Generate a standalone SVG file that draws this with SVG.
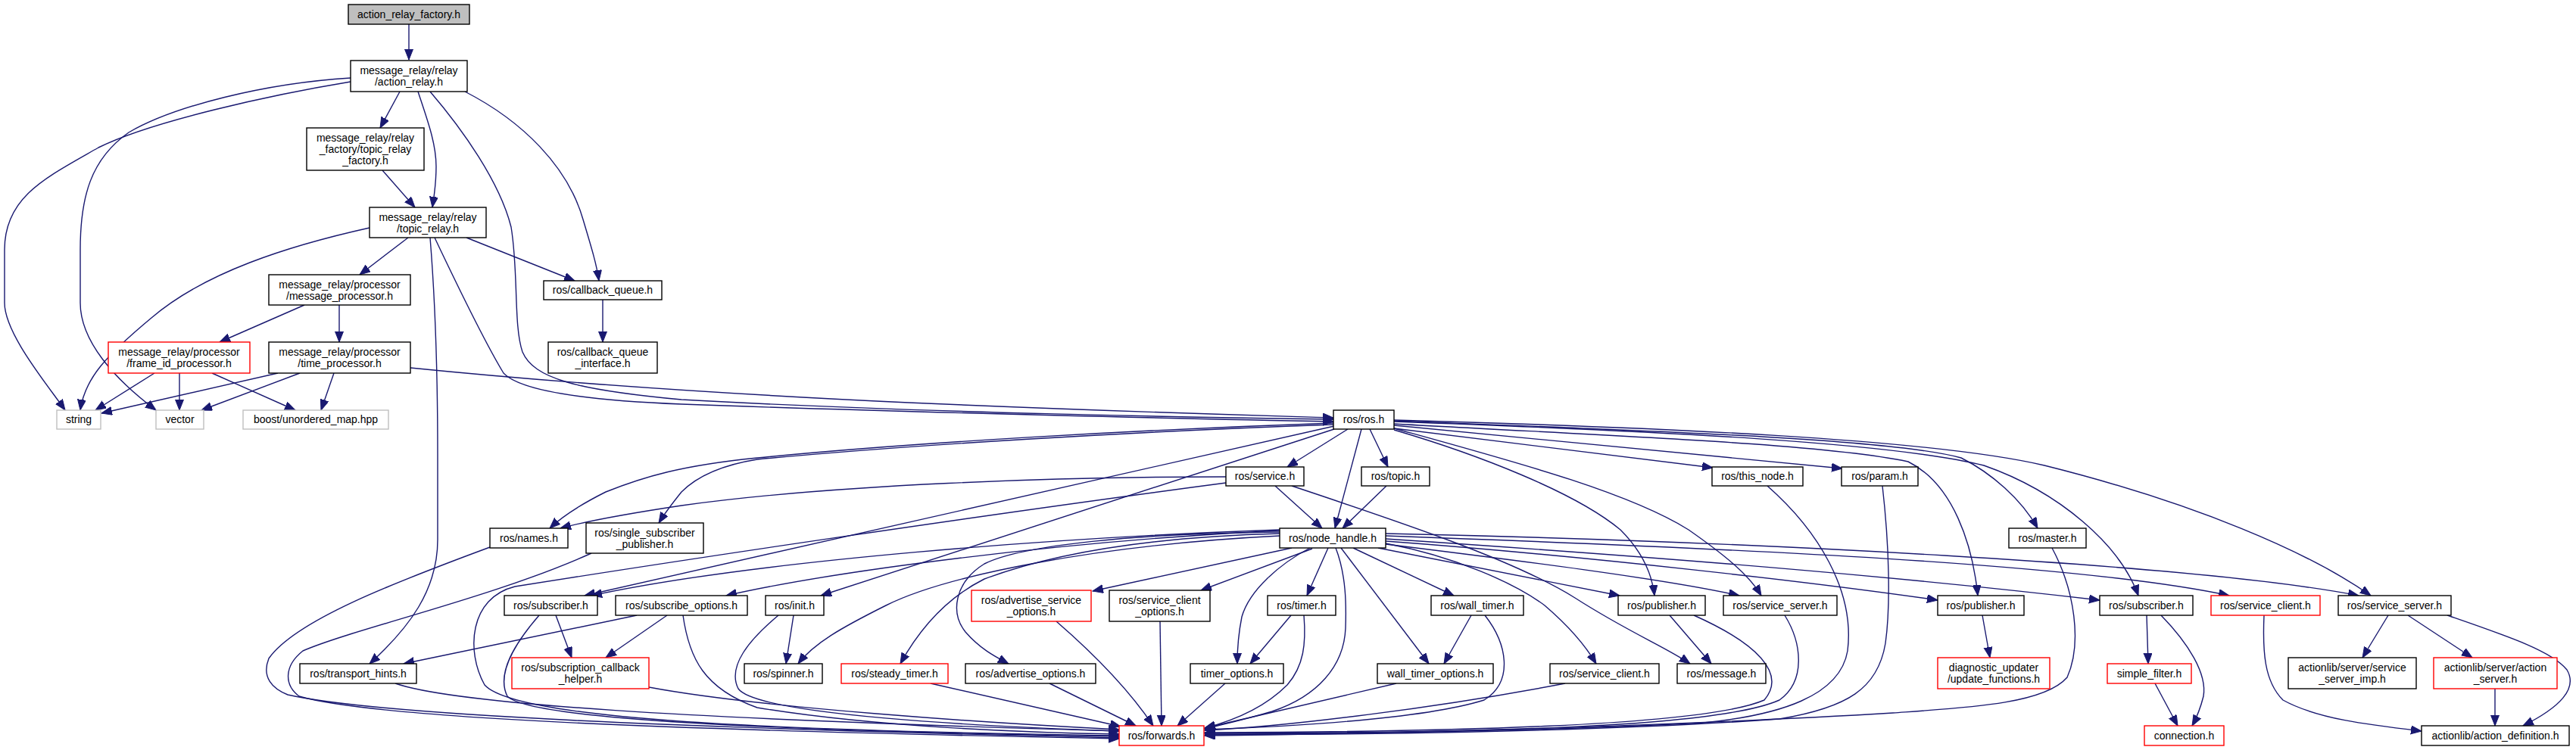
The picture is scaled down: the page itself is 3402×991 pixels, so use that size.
<svg xmlns="http://www.w3.org/2000/svg" width="3402" height="991" viewBox="0 0 3402 991">
<style>
.n rect{fill:#fff;stroke:#000;stroke-width:1.4}
.n.r rect{stroke:#ff0000}
.n.g rect{stroke:#bfbfbf}
.n.root rect{fill:#bfbfbf}
.n text{font-family:"Liberation Sans",Arial,sans-serif;font-size:14px;text-anchor:middle;fill:#000}
#edges path{fill:none;stroke:#191970;stroke-width:1.4;marker-end:url(#ah)}
</style>
<defs>
<marker id="ah" markerUnits="userSpaceOnUse" markerWidth="15" markerHeight="12" refX="14" refY="5.5" orient="auto">
<path d="M0,0 L14,5.5 L0,11 z" fill="#191970" stroke="#191970" stroke-width="1"/>
</marker>
</defs>
<rect width="3402" height="991" fill="#fff"/>
<g id="edges">
<path d="M540,32 L540,79"/>
<path d="M463,108 C360,125 200,160 130,195 C60,235 6,260 6,330 L6,400 C6,440 60,505 86,542"/>
<path d="M463,103 C350,110 230,140 170,175 C120,210 106,260 106,330 L106,400 C106,450 150,500 206,542"/>
<path d="M528,121 L502,169"/>
<path d="M552,121 C565,160 576,190 576,220 C576,245 573,260 571,274"/>
<path d="M568,121 C610,170 660,240 675,300 C685,360 678,430 690,465 C705,500 760,515 900,528 C1200,545 1600,552 1761,554"/>
<path d="M614,121 C690,160 750,220 770,290 C782,330 788,350 791,371"/>
<path d="M505,225 L548,274"/>
<path d="M539,314 L475,363"/>
<path d="M616,314 L759,371"/>
<path d="M568,314 C575,400 578,500 578,600 L578,713 C578,780 540,830 488,877"/>
<path d="M488,301 C380,325 270,360 200,420 C140,470 112,500 106,542"/>
<path d="M574,314 C610,390 645,460 665,493 C690,520 800,530 900,534 C1200,545 1600,554 1761,557"/>
<path d="M402,403 L290,452"/>
<path d="M448,403 L448,452"/>
<path d="M796,396 L796,452"/>
<path d="M204,493 L126,542"/>
<path d="M237,493 L237,542"/>
<path d="M280,493 L390,542"/>
<path d="M367,493 L134,546"/>
<path d="M396,493 L266,542"/>
<path d="M441,493 L424,542"/>
<path d="M542,486 C700,502 900,518 1200,532 C1500,545 1700,550 1761,552"/>
<path d="M1780,567 L1700,617"/>
<path d="M1798,567 L1763,698"/>
<path d="M1809,567 L1833,617"/>
<path d="M1761,559 C1500,568 1200,585 1000,605 C900,615 850,630 800,650 C770,665 745,680 726,698"/>
<path d="M1761,561 C1500,570 1200,588 1000,607 C950,615 920,630 900,650 C888,665 878,678 870,691"/>
<path d="M1762,563 L772,787"/>
<path d="M1762,567 L1084,787"/>
<path d="M1841,566 L2262,618"/>
<path d="M1841,562 L2433,619"/>
<path d="M1841,568 C1950,600 2080,650 2140,700 C2170,730 2182,760 2185,787"/>
<path d="M1841,566 C2000,610 2150,650 2230,700 C2280,735 2310,760 2326,787"/>
<path d="M1841,556 C2200,570 2500,580 2590,605 C2630,625 2670,660 2691,698"/>
<path d="M1841,560 C2100,575 2400,585 2520,610 C2580,640 2605,720 2612,787"/>
<path d="M1841,557 C2200,570 2500,585 2620,615 C2720,650 2800,720 2824,787"/>
<path d="M1841,555 C2200,565 2550,580 2700,615 C2900,665 3050,730 3131,787"/>
<path d="M1684,642 L1746,698"/>
<path d="M1831,642 L1773,698"/>
<path d="M1619,630 C1400,630 1100,640 900,668 C820,680 770,690 740,698"/>
<path d="M1619,638 C1300,680 900,740 680,775 C620,790 615,860 640,905 C680,950 1000,965 1478,972"/>
<path d="M1706,642 C1850,690 2000,740 2080,790 C2150,835 2200,855 2232,877"/>
<path d="M1690,700 C1400,710 1000,740 781,787"/>
<path d="M1690,701 C1400,715 1100,755 959,787"/>
<path d="M1690,708 C1450,720 1250,760 1170,800 C1110,830 1075,850 1054,877"/>
<path d="M1690,705 C1500,710 1380,735 1300,765 C1250,790 1215,830 1189,877"/>
<path d="M1690,703 C1500,705 1350,720 1300,745 C1260,770 1255,810 1275,835 C1295,858 1315,868 1332,877"/>
<path d="M1706,724 L1443,781"/>
<path d="M1733,725 L1586,780"/>
<path d="M1754,724 L1726,787"/>
<path d="M1730,724 C1690,745 1650,780 1640,815 C1635,840 1634,860 1634,877"/>
<path d="M1764,724 C1778,760 1778,800 1777,830 C1775,880 1740,920 1680,940 C1640,952 1610,958 1591,963"/>
<path d="M1787,724 L1920,787"/>
<path d="M1771,724 L1887,877"/>
<path d="M1830,718 C1920,735 2000,770 2040,800 C2075,830 2095,855 2108,877"/>
<path d="M1820,724 L2139,787"/>
<path d="M1830,719 C2000,740 2200,765 2297,787"/>
<path d="M1830,715 C2100,735 2400,770 2559,793"/>
<path d="M1830,712 C2100,730 2450,755 2773,793"/>
<path d="M1830,708 C2300,725 2750,745 2944,787"/>
<path d="M1830,705 C2300,715 2900,745 3115,787"/>
<path d="M734,813 L755,869"/>
<path d="M712,813 C680,850 655,890 670,920 C700,950 1000,965 1478,973"/>
<path d="M841,813 L533,877"/>
<path d="M881,813 L800,869"/>
<path d="M902,813 C910,870 930,910 1000,935 C1150,960 1350,968 1478,970"/>
<path d="M1048,813 L1038,877"/>
<path d="M1028,813 C990,845 960,880 975,910 C1000,945 1300,960 1478,966"/>
<path d="M522,903 C600,930 900,950 1478,966"/>
<path d="M857,908 C1000,935 1300,955 1478,964"/>
<path d="M647,723 C520,770 390,820 355,870 C345,895 360,910 380,918 C500,945 900,962 1478,975"/>
<path d="M781,731 C650,790 470,830 400,860 C375,880 375,905 395,920 C500,950 900,965 1478,976"/>
<path d="M1395,821 C1440,860 1490,910 1523,959"/>
<path d="M1532,821 L1534,959"/>
<path d="M1229,903 L1480,960"/>
<path d="M1386,903 L1500,959"/>
<path d="M1618,903 L1555,959"/>
<path d="M1844,903 L1591,962"/>
<path d="M1943,813 L1907,877"/>
<path d="M1961,813 C1990,850 2000,900 1960,925 C1880,950 1700,960 1591,964"/>
<path d="M1722,813 C1725,850 1722,880 1700,905 C1670,935 1630,952 1591,962"/>
<path d="M1705,813 L1651,877"/>
<path d="M2067,903 C1900,935 1700,960 1591,965"/>
<path d="M2205,813 L2260,877"/>
<path d="M2237,813 C2320,850 2360,890 2330,925 C2250,960 1900,967 1591,968"/>
<path d="M2357,813 C2380,850 2385,900 2350,925 C2260,965 1900,968 1591,969"/>
<path d="M2334,642 C2400,700 2450,780 2440,860 C2430,920 2350,945 2250,955 C2000,968 1700,970 1591,970"/>
<path d="M2486,642 C2495,720 2497,800 2490,850 C2480,910 2440,935 2350,950 C2100,968 1750,971 1591,971"/>
<path d="M2710,724 C2740,780 2750,850 2730,895 C2700,930 2600,935 2500,942 C2200,960 1800,970 1591,972"/>
<path d="M2618,813 L2628,869"/>
<path d="M2835,813 L2837,877"/>
<path d="M2854,813 C2890,850 2915,890 2910,920 C2905,940 2900,950 2895,959"/>
<path d="M2846,903 L2876,959"/>
<path d="M2990,813 C2988,860 2990,900 3015,925 C3060,950 3130,958 3198,966"/>
<path d="M3154,813 L3120,869"/>
<path d="M3180,813 L3265,869"/>
<path d="M3232,813 C3310,840 3370,860 3390,885 C3405,910 3380,935 3332,959"/>
<path d="M3295,910 L3295,959"/>
</g>
<g id="n0" class="n root"><rect x="460" y="6" width="160" height="26"/><text x="540" y="24">action_relay_factory.h</text></g>
<g id="n1" class="n"><rect x="463" y="80" width="154" height="41"/><text x="540" y="98">message_relay/relay</text><text x="540" y="113">/action_relay.h</text></g>
<g id="n2" class="n"><rect x="405" y="169" width="155" height="56"/><text x="482.5" y="187">message_relay/relay</text><text x="482.5" y="202">_factory/topic_relay</text><text x="482.5" y="217">_factory.h</text></g>
<g id="n3" class="n"><rect x="488" y="274" width="154" height="40"/><text x="565" y="292">message_relay/relay</text><text x="565" y="307">/topic_relay.h</text></g>
<g id="n4" class="n"><rect x="355" y="363" width="187" height="40"/><text x="448.5" y="381">message_relay/processor</text><text x="448.5" y="396">/message_processor.h</text></g>
<g id="n5" class="n"><rect x="718" y="371" width="156" height="25"/><text x="796" y="388">ros/callback_queue.h</text></g>
<g id="n6" class="n r"><rect x="143" y="452" width="187" height="41"/><text x="236.5" y="470">message_relay/processor</text><text x="236.5" y="485">/frame_id_processor.h</text></g>
<g id="n7" class="n"><rect x="355" y="452" width="187" height="41"/><text x="448.5" y="470">message_relay/processor</text><text x="448.5" y="485">/time_processor.h</text></g>
<g id="n8" class="n"><rect x="724" y="452" width="144" height="41"/><text x="796" y="470">ros/callback_queue</text><text x="796" y="485">_interface.h</text></g>
<g id="n9" class="n g"><rect x="75" y="542" width="58" height="25"/><text x="104" y="559">string</text></g>
<g id="n10" class="n g"><rect x="206" y="542" width="63" height="25"/><text x="237.5" y="559">vector</text></g>
<g id="n11" class="n g"><rect x="321" y="542" width="192" height="25"/><text x="417" y="559">boost/unordered_map.hpp</text></g>
<g id="n12" class="n"><rect x="1761" y="542" width="80" height="25"/><text x="1801" y="559">ros/ros.h</text></g>
<g id="n13" class="n"><rect x="1619" y="617" width="103" height="25"/><text x="1670.5" y="634">ros/service.h</text></g>
<g id="n14" class="n"><rect x="1798" y="617" width="90" height="25"/><text x="1843" y="634">ros/topic.h</text></g>
<g id="n15" class="n"><rect x="2261" y="617" width="120" height="25"/><text x="2321" y="634">ros/this_node.h</text></g>
<g id="n16" class="n"><rect x="2432" y="617" width="101" height="25"/><text x="2482.5" y="634">ros/param.h</text></g>
<g id="n17" class="n"><rect x="647" y="698" width="103" height="26"/><text x="698.5" y="716">ros/names.h</text></g>
<g id="n18" class="n"><rect x="774" y="691" width="155" height="40"/><text x="851.5" y="709">ros/single_subscriber</text><text x="851.5" y="724">_publisher.h</text></g>
<g id="n19" class="n"><rect x="1690" y="698" width="140" height="26"/><text x="1760" y="716">ros/node_handle.h</text></g>
<g id="n20" class="n"><rect x="2653" y="698" width="102" height="26"/><text x="2704" y="716">ros/master.h</text></g>
<g id="n21" class="n"><rect x="666" y="787" width="123" height="26"/><text x="727.5" y="805">ros/subscriber.h</text></g>
<g id="n22" class="n"><rect x="813" y="787" width="174" height="26"/><text x="900" y="805">ros/subscribe_options.h</text></g>
<g id="n23" class="n"><rect x="1011" y="787" width="77" height="26"/><text x="1049.5" y="805">ros/init.h</text></g>
<g id="n24" class="n r"><rect x="1283" y="780" width="158" height="41"/><text x="1362" y="798">ros/advertise_service</text><text x="1362" y="813">_options.h</text></g>
<g id="n25" class="n"><rect x="1465" y="780" width="133" height="41"/><text x="1531.5" y="798">ros/service_client</text><text x="1531.5" y="813">_options.h</text></g>
<g id="n26" class="n"><rect x="1674" y="787" width="90" height="26"/><text x="1719" y="805">ros/timer.h</text></g>
<g id="n27" class="n"><rect x="1890" y="787" width="122" height="26"/><text x="1951" y="805">ros/wall_timer.h</text></g>
<g id="n28" class="n"><rect x="2137" y="787" width="115" height="26"/><text x="2194.5" y="805">ros/publisher.h</text></g>
<g id="n29" class="n"><rect x="2276" y="787" width="150" height="26"/><text x="2351" y="805">ros/service_server.h</text></g>
<g id="n30" class="n"><rect x="2559" y="787" width="114" height="26"/><text x="2616" y="805">ros/publisher.h</text></g>
<g id="n31" class="n"><rect x="2773" y="787" width="123" height="26"/><text x="2834.5" y="805">ros/subscriber.h</text></g>
<g id="n32" class="n r"><rect x="2920" y="787" width="144" height="26"/><text x="2992" y="805">ros/service_client.h</text></g>
<g id="n33" class="n"><rect x="3088" y="787" width="149" height="26"/><text x="3162.5" y="805">ros/service_server.h</text></g>
<g id="n34" class="n"><rect x="396" y="877" width="154" height="26"/><text x="473" y="895">ros/transport_hints.h</text></g>
<g id="n35" class="n r"><rect x="676" y="869" width="181" height="41"/><text x="766.5" y="887">ros/subscription_callback</text><text x="766.5" y="902">_helper.h</text></g>
<g id="n36" class="n"><rect x="983" y="877" width="103" height="26"/><text x="1034.5" y="895">ros/spinner.h</text></g>
<g id="n37" class="n r"><rect x="1111" y="877" width="141" height="26"/><text x="1181.5" y="895">ros/steady_timer.h</text></g>
<g id="n38" class="n"><rect x="1275" y="877" width="172" height="26"/><text x="1361" y="895">ros/advertise_options.h</text></g>
<g id="n39" class="n"><rect x="1572" y="877" width="123" height="26"/><text x="1633.5" y="895">timer_options.h</text></g>
<g id="n40" class="n"><rect x="1819" y="877" width="153" height="26"/><text x="1895.5" y="895">wall_timer_options.h</text></g>
<g id="n41" class="n"><rect x="2047" y="877" width="144" height="26"/><text x="2119" y="895">ros/service_client.h</text></g>
<g id="n42" class="n"><rect x="2215" y="877" width="117" height="26"/><text x="2273.5" y="895">ros/message.h</text></g>
<g id="n43" class="n r"><rect x="2559" y="869" width="148" height="41"/><text x="2633" y="887">diagnostic_updater</text><text x="2633" y="902">/update_functions.h</text></g>
<g id="n44" class="n r"><rect x="2783" y="877" width="111" height="26"/><text x="2838.5" y="895">simple_filter.h</text></g>
<g id="n45" class="n"><rect x="3022" y="869" width="169" height="41"/><text x="3106.5" y="887">actionlib/server/service</text><text x="3106.5" y="902">_server_imp.h</text></g>
<g id="n46" class="n r"><rect x="3214" y="869" width="163" height="41"/><text x="3295.5" y="887">actionlib/server/action</text><text x="3295.5" y="902">_server.h</text></g>
<g id="n47" class="n r"><rect x="1478" y="959" width="112" height="26"/><text x="1534" y="977">ros/forwards.h</text></g>
<g id="n48" class="n r"><rect x="2832" y="959" width="105" height="26"/><text x="2884.5" y="977">connection.h</text></g>
<g id="n49" class="n"><rect x="3198" y="959" width="195" height="26"/><text x="3295.5" y="977">actionlib/action_definition.h</text></g>
</svg>
